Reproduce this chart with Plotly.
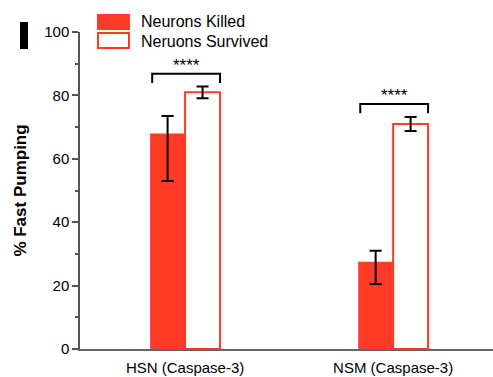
import plotly.graph_objects as go

categories = ["HSN (Caspase-3)", "NSM (Caspase-3)"]
series_names = ["Neurons Killed", "Neruons Survived"]
killed = [68.0, 27.5]
killed_err_plus = [5.5, 3.5]
killed_err_minus = [15.0, 7.0]
survived = [81.0, 71.0]
survived_err_plus = [1.8, 2.2]
survived_err_minus = [1.9, 2.2]
sig_labels = ["****", "****"]
bracket_top = [86.8, 77.3]
bracket_foot = [83.9, 74.4]

RED = "#FF3B28"
FONT = "Liberation Sans, Arial, sans-serif"

fig = go.Figure()
fig.add_trace(go.Bar(
    x=categories, y=killed, name=series_names[0],
    marker=dict(color=RED, line=dict(color=RED, width=0)),
    error_y=dict(type="data", array=killed_err_plus, arrayminus=killed_err_minus,
                 color="black", thickness=2, width=6),
    showlegend=False,
))
fig.add_trace(go.Bar(
    x=categories, y=survived, name=series_names[1],
    marker=dict(color="white", line=dict(color=RED, width=2)),
    error_y=dict(type="data", array=survived_err_plus, arrayminus=survived_err_minus,
                 color="black", thickness=2, width=6),
    showlegend=False,
))

half = 0.168
for i, cat in enumerate(categories):
    x0 = i - half + 0.01
    x1 = i + half
    fig.add_shape(type="path",
                  path=f"M {x0} {bracket_foot[i]} L {x0} {bracket_top[i]} L {x1} {bracket_top[i]} L {x1} {bracket_foot[i]}",
                  xref="x", yref="y", line=dict(color="black", width=2))
    fig.add_annotation(x=(x0 + x1) / 2, y=bracket_top[i], text=sig_labels[i], showarrow=False,
                       xref="x", yref="y", yanchor="bottom", yshift=-3,
                       font=dict(size=17, color="black", family=FONT))

# manual legend (pixel layout: plot area x 80..493, y 32..349)
def px(x):
    return (x - 80) / 413


def py(y):
    return (349 - y) / 317


fig.add_shape(type="rect", xref="paper", yref="paper",
              x0=px(97), x1=px(130), y0=py(30), y1=py(14),
              fillcolor=RED, line=dict(width=0))
fig.add_shape(type="rect", xref="paper", yref="paper",
              x0=px(98), x1=px(129), y0=py(48), y1=py(33),
              fillcolor="white", line=dict(color=RED, width=2))
for name, yy in zip(series_names, [22, 41]):
    fig.add_annotation(xref="paper", yref="paper", x=px(139), y=py(yy), text=name,
                       showarrow=False, xanchor="left", yanchor="middle",
                       font=dict(size=16, color="black", family=FONT))

# panel marker
fig.add_shape(type="rect", xref="paper", yref="paper",
              x0=px(20), x1=px(28), y0=py(49), y1=py(22),
              fillcolor="black", line=dict(width=0))

fig.update_layout(
    width=493, height=377,
    margin=dict(l=80, r=0, t=32, b=28, autoexpand=False),
    plot_bgcolor="white", paper_bgcolor="white",
    barmode="group", bargap=0.664, bargroupgap=0,
    font=dict(family=FONT, color="black"),
    showlegend=False,
)
fig.update_xaxes(range=[-0.505, 1.48], showline=True, linecolor="#666666", linewidth=2,
                 ticks="", tickfont=dict(size=15, family=FONT), showgrid=False,
                 ticklabelstandoff=4)
fig.update_yaxes(range=[0, 100], showline=True, linecolor="#555555", linewidth=1.5,
                 ticks="outside", ticklen=6, tickwidth=1.5, tickcolor="#555555",
                 tickvals=[0, 20, 40, 60, 80, 100], tickfont=dict(size=15, family=FONT),
                 minor=dict(tickvals=[10, 30, 50, 70, 90], ticks="outside", ticklen=3,
                            tickcolor="#555555", tickwidth=1.5),
                 showgrid=False, zeroline=False,
                 title=dict(text="<b>% Fast Pumping</b>", font=dict(size=17, family=FONT), standoff=13))

fig.write_html("out.html", post_script="document.body.style.margin='0';",
               config={"displayModeBar": False})
